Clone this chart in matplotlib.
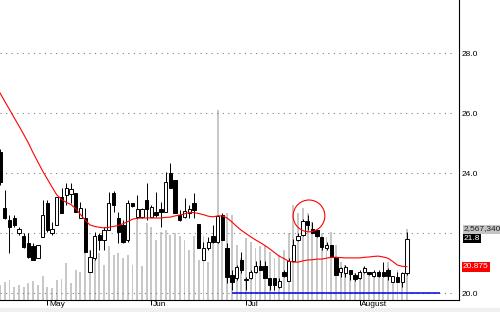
import matplotlib
matplotlib.use('Agg')
import matplotlib.pyplot as plt
from matplotlib.patches import Ellipse, Rectangle
from matplotlib.transforms import blended_transform_factory

# daily bars (one entry per trading day)
opens = [24.7, 22.83, 22.43, 22.5, 22.0, 21.9, 21.67, 21.57, 21.17, 21.87,
         23.0, 22.0, 22.27, 23.2, 23.27, 23.3, 23.33, 22.5, 22.5, 20.7,
         21.17, 21.93, 21.77, 22.1, 23.33, 22.5, 22.27, 21.77, 23.0, 22.53,
         22.53, 23.1, 22.53, 22.7, 22.8, 22.7, 24.0, 23.77, 22.6, 22.53,
         22.67, 23.0, 22.3, 21.1, 21.5, 21.9, 21.7, 22.6, 21.5, 20.6,
         20.5, 21.1, 20.43, 20.5, 20.7, 20.9, 20.9, 20.5, 20.5, 20.2,
         20.7, 20.4, 21.07, 21.77, 21.93, 22.4, 22.13, 22.1, 21.87, 21.5,
         21.6, 21.2, 20.7, 20.67, 20.77, 20.6, 20.5, 20.7, 20.7, 20.57,
         20.7, 20.7, 20.77, 20.37, 20.53, 20.37, 20.67]
highs = [24.8, 23.43, 22.6, 22.6, 22.2, 22.0, 22.0, 21.67, 21.6, 23.1,
         23.1, 22.37, 23.2, 23.5, 23.67, 23.67, 23.33, 23.03, 22.83, 21.43,
         22.03, 22.0, 22.2, 23.37, 23.4, 22.7, 22.43, 23.1, 23.0, 23.27,
         22.83, 23.67, 22.93, 23.37, 23.03, 24.03, 24.33, 23.77, 22.77, 23.17,
         22.93, 23.33, 22.3, 21.7, 21.87, 22.27, 22.6, 22.67, 21.67, 20.77,
         20.93, 21.37, 20.53, 20.77, 21.07, 21.1, 21.07, 20.5, 20.5, 20.5,
         20.77, 21.17, 21.8, 22.0, 22.47, 22.6, 22.37, 22.1, 21.87, 21.7,
         21.6, 21.2, 20.87, 20.93, 20.77, 20.67, 20.77, 20.9, 20.7, 20.77,
         20.77, 21.03, 20.83, 20.57, 20.7, 20.7, 22.03]
lows = [23.6, 22.47, 21.33, 22.2, 21.93, 21.5, 21.17, 21.1, 21.17, 21.87,
        22.03, 21.93, 22.27, 22.67, 22.93, 23.0, 22.7, 22.5, 21.37, 20.7,
        21.1, 21.43, 21.43, 22.1, 22.7, 21.67, 21.67, 21.7, 22.87, 22.47,
        22.5, 22.43, 22.53, 22.53, 22.2, 22.7, 23.5, 22.67, 22.4, 22.5,
        22.5, 22.5, 21.5, 21.1, 21.43, 21.67, 21.67, 21.77, 20.33, 20.1,
        20.43, 20.67, 20.1, 20.47, 20.67, 20.77, 20.5, 20.1, 20.1, 20.17,
        20.53, 20.4, 21.07, 21.73, 21.9, 22.1, 22.0, 21.87, 21.43, 21.43,
        21.2, 20.6, 20.53, 20.53, 20.43, 20.4, 20.47, 20.67, 20.6, 20.53,
        20.53, 20.53, 20.43, 20.37, 20.37, 20.2, 20.6]
closes = [23.7, 22.5, 22.2, 22.27, 22.13, 21.53, 21.2, 21.1, 21.6, 22.6,
          22.1, 22.13, 23.2, 22.67, 23.5, 23.47, 22.7, 22.83, 21.37, 21.2,
          21.9, 21.77, 22.1, 23.0, 22.93, 22.03, 21.7, 23.0, 22.9, 22.8,
          22.8, 22.8, 22.87, 22.6, 22.7, 23.7, 23.5, 22.67, 22.43, 22.73,
          22.8, 22.77, 21.5, 21.5, 21.7, 21.7, 22.57, 21.77, 20.53, 20.37,
          20.87, 20.77, 20.45, 20.7, 20.9, 20.77, 20.5, 20.27, 20.27, 20.4,
          20.57, 21.07, 21.6, 21.9, 22.4, 22.27, 22.0, 21.9, 21.53, 21.6,
          21.2, 20.6, 20.83, 20.87, 20.63, 20.47, 20.7, 20.83, 20.63, 20.7,
          20.57, 20.57, 20.57, 20.57, 20.37, 20.67, 21.8]
volumes = [542e3, 651e3, 723e3, 470e3, 542e3, 470e3, 615e3, 687e3, 542e3, 868e3,
           470e3, 434e3, 723e3, 759e3, 1338e3, 615e3, 1085e3, 1012e3, 1989e3, 1808e3,
           2242e3, 1700e3, 1266e3, 1953e3, 1627e3, 1700e3, 1519e3, 1627e3, 1266e3, 2893e3,
           1229e3, 2784e3, 2640e3, 2170e3, 2459e3, 2531e3, 2350e3, 2423e3, 2314e3, 2170e3,
           1808e3, 2314e3, 1446e3, 2314e3, 1374e3, 2170e3, 6870e3, 2712e3, 3146e3, 3074e3,
           1989e3, 1519e3, 2242e3, 2097e3, 1880e3, 1953e3, 1989e3, 1736e3, 1519e3, 1627e3,
           1808e3, 2423e3, 3435e3, 3146e3, 3327e3, 3146e3, 2820e3, 2531e3, 2423e3, 2278e3,
           2459e3, 1989e3, 1374e3, 1266e3, 1085e3, 976e3, 904e3, 1193e3, 904e3, 1012e3,
           976e3, 796e3, 1374e3, 723e3, 1085e3, 976e3, 2567340]
# moving average (red line)
ma = [26.67, 26.39, 26.12, 25.84, 25.57, 25.29, 25.0, 24.67, 24.37, 24.07,
      23.8, 23.53, 23.27, 23.12, 23.02, 22.95, 22.81, 22.62, 22.43, 22.27,
      22.22, 22.19, 22.17, 22.19, 22.22, 22.25, 22.31, 22.38, 22.46, 22.49,
      22.5, 22.5, 22.5, 22.5, 22.5, 22.52, 22.53, 22.57, 22.6, 22.64,
      22.69, 22.68, 22.65, 22.61, 22.56, 22.54, 22.57, 22.57, 22.5, 22.37,
      22.22, 22.09, 21.98, 21.87, 21.77, 21.68, 21.58, 21.47, 21.35, 21.23,
      21.15, 21.06, 21.03, 21.03, 21.07, 21.1, 21.11, 21.13, 21.13, 21.16,
      21.19, 21.19, 21.18, 21.17, 21.17, 21.17, 21.17, 21.19, 21.2, 21.22,
      21.23, 21.2, 21.16, 21.05, 20.93, 20.89, 20.875]

month_pos = [10, 32, 52, 76]
month_labels = ['May', 'Jun', 'Jul', 'August']
grid_levels = [20.0, 22.0, 24.0, 26.0, 28.0]
axis_labels = [20.0, 24.0, 26.0, 28.0]
support_level = 20.0
support_start, support_end = 49, 93
circle_center = (65.3, 22.57)

plt.rcParams['font.family'] = ['Liberation Sans', 'DejaVu Sans']
fs = 6

fig = plt.figure(figsize=(5, 3.12), dpi=100)
fig.patches.append(Rectangle((0, 0), 1, 4 / 312, transform=fig.transFigure,
                             color='#efefef', zorder=0))

vax = fig.add_axes([0, 12 / 312, 459 / 500, 300 / 312])
ax = vax.twinx()

n = len(closes)
idx = list(range(n))

# volume in the background
vax.bar(idx, volumes, width=0.4, color='#c8c8c8', linewidth=0)
vax.set_ylim(0, 300 * 36160)
vax.set_yticks([])

# dotted grid
ax.hlines(grid_levels, 0, 96.2, colors='#808080', linewidth=0.8,
          linestyles=(0, (1, 4)))
ax.hlines(support_level, support_start, support_end, colors='#0000e0', linewidth=1.1)

# candles
for i in idx:
    o, h, l, c = opens[i], highs[i], lows[i], closes[i]
    ax.vlines(i, l, h, colors='black', linewidth=0.7, zorder=3)
    bottom = min(o, c)
    height = max(abs(c - o), 0.03)
    ax.bar(i, height, bottom=bottom, width=0.7,
           color='white' if c >= o else 'black', edgecolor='black',
           linewidth=0.7, zorder=4)

ax.plot(idx, ma, color='#ff0000', linewidth=0.8, zorder=5)
ax.add_patch(Ellipse(circle_center, 6.7, 1.06, fill=False, edgecolor='#ff0000',
                     linewidth=0.8, zorder=6))

ax.set_xlim(0, 97.0)
ax.set_ylim(20 - 7 / 30, 20 + 293 / 30)
ax.set_yticks(axis_labels)
ax.set_yticklabels(['%.1f' % v for v in axis_labels], fontsize=fs)
ax.tick_params(axis='y', length=0, pad=2.2)

for a in (ax, vax):
    a.spines['top'].set_visible(False)
    a.spines['left'].set_visible(False)
vax.spines['right'].set_visible(False)
ax.spines['bottom'].set_visible(False)
ax.spines['right'].set_linewidth(0.8)
vax.spines['bottom'].set_linewidth(0.8)

vax.set_xticks(month_pos)
vax.set_xticklabels([])
vax.tick_params(axis='x', length=3.6, width=0.7, direction='out')
for p, lab in zip(month_pos, month_labels):
    vax.annotate(lab, xy=(p, 0), xycoords=('data', 'axes fraction'),
                 xytext=(1.3, -0.6), textcoords='offset points',
                 ha='left', va='top', fontsize=fs, annotation_clip=False)

# last-value boxes on the right
tv = blended_transform_factory(fig.transFigure, vax.transData)
tp = blended_transform_factory(fig.transFigure, ax.transData)
vax.text(464 / 500, volumes[-1], '2,567,340', transform=tv, fontsize=fs,
         color='#202020', va='center', ha='left', clip_on=False,
         bbox=dict(boxstyle='square,pad=0.12', fc='#c4c4c4', ec='none'))
ax.text(464 / 500, closes[-1], '%.1f' % closes[-1], transform=tp, fontsize=fs,
        color='white', va='center', ha='left', clip_on=False,
        bbox=dict(boxstyle='square,pad=0.12', fc='black', ec='none'))
ax.text(463 / 500, ma[-1], '%.3f' % ma[-1], transform=tp, fontsize=fs,
        color='white', va='center', ha='left', clip_on=False,
        bbox=dict(boxstyle='square,pad=0.15', fc='#ff0000', ec='none'))

fig.savefig('out.png', dpi=100)
